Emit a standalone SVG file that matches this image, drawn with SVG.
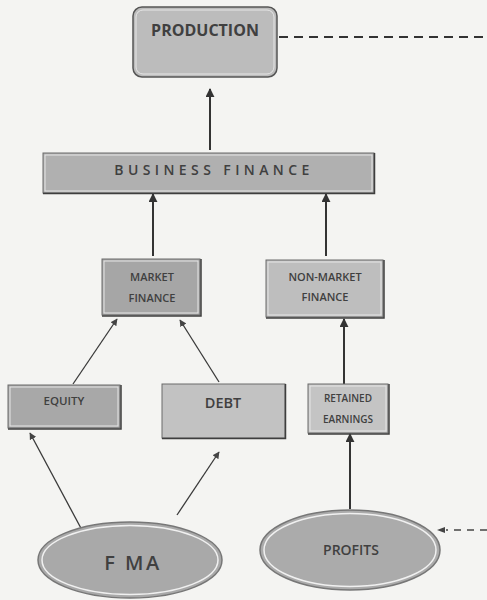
<svg xmlns="http://www.w3.org/2000/svg" width="487" height="600" viewBox="0 0 487 600">
<defs>
<marker id="ah" viewBox="0 0 10 10" refX="9" refY="5" markerWidth="9" markerHeight="9" markerUnits="userSpaceOnUse" orient="auto">
<path d="M0,0 L10,5 L0,10 z" fill="#333"/>
</marker>
<marker id="ahs" viewBox="0 0 10 10" refX="9" refY="5" markerWidth="7" markerHeight="7" markerUnits="userSpaceOnUse" orient="auto">
<path d="M0,0 L10,5 L0,10 z" fill="#444"/>
</marker>
</defs>
<style>
.box{stroke:#6a6a6a;stroke-width:1}
.inner{fill:none;stroke:#e6e6e6;stroke-width:1}
.shadow{fill:none;stroke:#3e3e3e;stroke-width:1.5}
.t{font-family:"Open Sans","Liberation Sans",sans-serif;font-weight:600;fill:#404040;text-anchor:middle}
.conn{stroke:#333;stroke-width:2;fill:none}
.thin{stroke:#3a3a3a;stroke-width:1.3;fill:none}
.dash{stroke:#333;stroke-width:2;fill:none;stroke-dasharray:9 6}
</style>
<rect width="487" height="600" fill="#f4f4f2"/>

<g id="connectors">
<line class="dash" x1="279" y1="37" x2="487" y2="37"/>
<line class="conn" x1="210" y1="150" x2="210" y2="89" marker-end="url(#ah)"/>
<line class="conn" x1="153" y1="256" x2="153" y2="194" marker-end="url(#ah)"/>
<line class="conn" x1="326" y1="256" x2="326" y2="194" marker-end="url(#ah)"/>
<line class="thin" x1="73" y1="384" x2="117" y2="319" marker-end="url(#ahs)"/>
<line class="thin" x1="219" y1="382" x2="180" y2="320" marker-end="url(#ahs)"/>
<line class="conn" x1="344" y1="384" x2="344" y2="319" marker-end="url(#ah)"/>
<line class="thin" x1="83" y1="532" x2="30" y2="433" marker-end="url(#ahs)"/>
<line class="thin" x1="177" y1="515" x2="219" y2="452" marker-end="url(#ahs)"/>
<line class="conn" x1="350" y1="509" x2="350" y2="434" marker-end="url(#ah)"/>
<line x1="487" y1="530" x2="446" y2="530" stroke="#444" stroke-width="1.5" stroke-dasharray="7 6"/>
<path d="M437,530 L445,527 L445,533 z" fill="#444"/>
</g>

<g id="production">
<rect x="133" y="7" width="144" height="70" rx="9" fill="#bcbcbc" stroke="#555" stroke-width="1.5"/>
<rect x="136" y="10" width="138" height="64" rx="7" class="inner"/>
<text class="t" x="205" y="36" font-size="16" style="font-weight:700">PRODUCTION</text>
</g>

<g id="business-finance">
<rect x="43" y="153" width="331" height="40" fill="#b0b0b0" class="box"/>
<rect x="45" y="155" width="327" height="36" class="inner"/>
<polyline class="shadow" points="43,193.5 374.5,193.5 374.5,153"/>
<text class="t" x="214" y="175" font-size="14" letter-spacing="4.4">BUSINESS FINANCE</text>
</g>

<g id="market-finance">
<rect x="102" y="259" width="98" height="56" fill="#a6a6a6" class="box"/>
<rect x="104" y="261" width="94" height="52" class="inner"/>
<polyline class="shadow" points="102,316 201,316 201,259"/>
<text class="t" x="152" y="281" font-size="11">MARKET</text>
<text class="t" x="152" y="302" font-size="11">FINANCE</text>
</g>

<g id="non-market-finance">
<rect x="266" y="260" width="117" height="57" fill="#bebebe" class="box"/>
<rect x="268" y="262" width="113" height="53" class="inner"/>
<polyline class="shadow" points="266,318 384,318 384,260"/>
<text class="t" x="325" y="281" font-size="11">NON-MARKET</text>
<text class="t" x="325" y="301" font-size="11">FINANCE</text>
</g>

<g id="equity">
<rect x="8" y="385" width="112" height="43" fill="#a8a8a8" class="box"/>
<rect x="10" y="387" width="108" height="39" class="inner"/>
<polyline class="shadow" points="8,429 121,429 121,385"/>
<text class="t" x="64" y="405" font-size="11.5">EQUITY</text>
</g>

<g id="debt">
<rect x="162" y="384" width="123" height="54" fill="#c2c2c2" class="box"/>
<polyline class="shadow" points="162,438.5 285.5,438.5 285.5,384"/>
<text class="t" x="223" y="408" font-size="14.5">DEBT</text>
</g>

<g id="retained-earnings">
<rect x="308" y="384" width="80" height="49" fill="#c4c4c4" class="box"/>
<rect x="310" y="386" width="76" height="45" class="inner"/>
<polyline class="shadow" points="308,434 389,434 389,384"/>
<text class="t" x="348" y="402" font-size="10">RETAINED</text>
<text class="t" x="348" y="423" font-size="10">EARNINGS</text>
</g>

<g id="fma">
<ellipse cx="130" cy="560" rx="92" ry="38" fill="#a9a9a9" stroke="#777" stroke-width="1.5"/>
<ellipse cx="130" cy="560" rx="88" ry="34.5" fill="none" stroke="#f0f0f0" stroke-width="1.5"/>
<text class="t" x="133" y="570" font-size="20" letter-spacing="2.5">F MA</text>
</g>

<g id="profits">
<ellipse cx="350" cy="550" rx="90" ry="40" fill="#ababab" stroke="#777" stroke-width="1.5"/>
<ellipse cx="350" cy="550" rx="86" ry="36.5" fill="none" stroke="#f0f0f0" stroke-width="1.5"/>
<text class="t" x="351" y="555" font-size="14">PROFITS</text>
</g>
</svg>
